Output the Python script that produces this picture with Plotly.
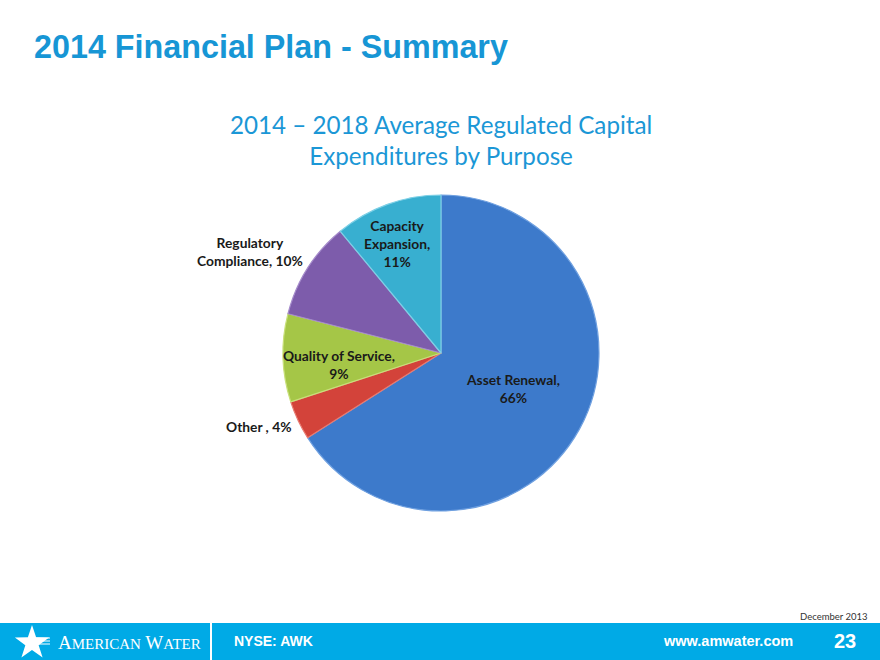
import plotly.graph_objects as go
import math

W, H = 880, 660

# ---- data ----
categories = ["Asset Renewal", "Other ", "Quality of Service", "Regulatory Compliance", "Capacity Expansion"]
shares = [66, 4, 9, 10, 11]
colors = ["#3D7ACB", "#D3433A", "#A5C647", "#7D5CAB", "#38AFD0"]
line_colors = ["#6FA0E0", "#E87A70", "#C8E07A", "#A58BCB", "#7ED0E6"]

# label layout text (how each label breaks into lines)
label_text = [
    "Asset Renewal,<br>66%",
    "Other , 4%",
    "Quality of Service,<br>9%",
    "Regulatory<br>Compliance, 10%",
    "Capacity<br>Expansion,<br>11%",
]
label_pos = [(513, 388), (259, 426), (339, 364), (250, 251), (397, 243)]


def px(x):
    return x / W


def py(y):
    return 1 - y / H


cx, cy, r = 441, 353, 158

fig = go.Figure()
fig.add_trace(go.Pie(
    labels=categories,
    values=shares,
    sort=False,
    direction="clockwise",
    rotation=0,
    marker=dict(colors=colors, line=dict(color=line_colors, width=1.2)),
    textinfo="none",
    hoverinfo="label+percent",
    showlegend=False,
    domain=dict(x=[px(cx - r), px(cx + r)], y=[py(cy + r), py(cy - r)]),
))

annotations = []
for t, (x, y) in zip(label_text, label_pos):
    annotations.append(dict(
        text=f"<b>{t}</b>", x=px(x), y=py(y), xref="paper", yref="paper",
        xanchor="center", yanchor="middle", showarrow=False, align="center",
        font=dict(family="Lato", size=13.8, color="#1a1a1a"),
    ))

# slide title
annotations.append(dict(
    text="<b>2014 Financial Plan - Summary</b>", x=px(32), y=py(47), xref="paper", yref="paper",
    xanchor="left", yanchor="middle", showarrow=False,
    font=dict(family="Liberation Sans", size=32.3, color="#1796D5"),
))
# chart title
annotations.append(dict(
    text="2014 – 2018 Average Regulated Capital<br>Expenditures by Purpose",
    x=px(441), y=py(140), xref="paper", yref="paper",
    xanchor="center", yanchor="middle", showarrow=False, align="center",
    font=dict(family="Lato", size=24.2, color="#1B97D6"),
))
# date
annotations.append(dict(
    text="December 2013", x=px(870), y=py(616), xref="paper", yref="paper",
    xanchor="right", yanchor="middle", showarrow=False,
    font=dict(family="Lato", size=9.5, color="#333333"),
))
# footer texts
annotations.append(dict(
    text="A<span style='font-size:15px'>MERICAN</span> W<span style='font-size:15px'>ATER</span>",
    x=px(56), y=py(642), xref="paper", yref="paper",
    xanchor="left", yanchor="middle", showarrow=False,
    font=dict(family="Liberation Serif", size=19, color="white"),
))
annotations.append(dict(
    text="<b>NYSE: AWK</b>", x=px(232), y=py(641), xref="paper", yref="paper",
    xanchor="left", yanchor="middle", showarrow=False,
    font=dict(family="Liberation Sans", size=14, color="white"),
))
annotations.append(dict(
    text="<b>www.amwater.com</b>", x=px(795), y=py(641), xref="paper", yref="paper",
    xanchor="right", yanchor="middle", showarrow=False,
    font=dict(family="Liberation Sans", size=14.5, color="white"),
))
annotations.append(dict(
    text="<b>23</b>", x=px(845), y=py(641), xref="paper", yref="paper",
    xanchor="center", yanchor="middle", showarrow=False,
    font=dict(family="Liberation Sans", size=20, color="white"),
))

shapes = [
    dict(type="rect", xref="paper", yref="paper", x0=0, x1=1, y0=0, y1=py(623),
         fillcolor="#00AAE6", line=dict(width=0), layer="below"),
    dict(type="line", xref="paper", yref="paper", x0=px(211), x1=px(211), y0=0, y1=py(623),
         line=dict(color="white", width=2)),
]

# star logo (path in paper coords)
scx, scy, ro, ri = 32, 643, 18, 7.0
pts = []
for k in range(10):
    ang = math.pi / 2 + k * math.pi / 5
    rr = ro if k % 2 == 0 else ri
    pts.append((px(scx + rr * math.cos(ang)), py(scy - rr * math.sin(ang))))
path = "M " + " L ".join(f"{a:.5f},{b:.5f}" for a, b in pts) + " Z"
shapes.append(dict(type="path", xref="paper", yref="paper", path=path,
                   fillcolor="white", line=dict(width=0)))
# small wave lines in the star
for dy in (-3, 0, 3):
    shapes.append(dict(type="line", xref="paper", yref="paper",
                       x0=px(34), x1=px(50), y0=py(641 + dy), y1=py(641 + dy),
                       line=dict(color="white", width=1)))

fig.update_layout(
    width=W, height=H,
    margin=dict(l=0, r=0, t=0, b=0),
    paper_bgcolor="white", plot_bgcolor="white",
    annotations=annotations, shapes=shapes,
)

fig.write_html("out.html")
